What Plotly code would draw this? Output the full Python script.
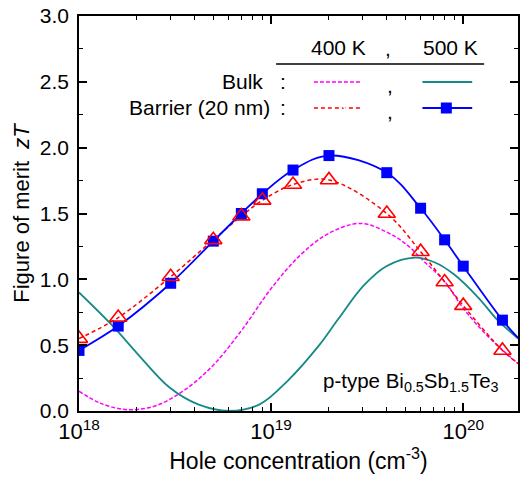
import plotly.graph_objects as go

# ---------------- data ----------------
conc_barrier = [1e18, 1.6e18, 3e18, 5e18, 7e18, 9e18, 1.3e19, 2e19, 4e19, 6e19, 8e19, 1e20, 1.6e20]
zt_barrier_500 = [0.46, 0.645, 0.97, 1.29, 1.50, 1.65, 1.83, 1.94, 1.81, 1.54, 1.30, 1.10, 0.69]
zt_barrier_400 = [0.55, 0.71, 1.02, 1.30, 1.48, 1.60, 1.72, 1.755, 1.50, 1.21, 0.98, 0.80, 0.46]

# curve continues to right frame edge
conc_edge = 1.93e20
zt_barrier_500_edge = 0.555
zt_barrier_400_edge = 0.36

conc_bulk400 = [1e18, 1.29e18, 1.78e18, 2.51e18, 3.55e18, 5.01e18, 7.08e18, 1e19, 1.41e19,
                2e19, 2.92e19, 3.98e19, 5.01e19, 6.31e19, 7.94e19, 1e20, 1.26e20, 1.58e20, 1.93e20]
zt_bulk400 = [0.15, 0.06, 0.01, 0.04, 0.16, 0.35, 0.62, 0.93, 1.18,
              1.35, 1.425, 1.36, 1.27, 1.13, 0.99, 0.78, 0.61, 0.47, 0.36]

conc_bulk500 = [1e18, 1.51e18, 2e18, 2.95e18, 4.17e18, 6.03e18, 8.71e18, 1.23e19, 1.78e19, 2.24e19,
                3.02e19, 3.98e19, 5.62e19, 7.08e19, 8.91e19, 1.2e20, 1.51e20, 1.93e20]
zt_bulk500 = [0.90, 0.64, 0.44, 0.18, 0.05, 0.0, 0.05, 0.235, 0.50, 0.70,
              0.95, 1.10, 1.165, 1.13, 1.04, 0.86, 0.69, 0.55]

x_tick_vals = [1e18, 1e19, 1e20]
x_tick_text = ["10<sup>18</sup>", "10<sup>19</sup>", "10<sup>20</sup>"]
y_tick_vals = [0.0, 0.5, 1.0, 1.5, 2.0, 2.5, 3.0]

# ---------------- style ----------------
FONT = "Liberation Sans, Arial, sans-serif"
MAGENTA = "#ff00ff"
TEAL = "#138a86"
RED = "#ff0000"
BLUE = "#0000ff"

fig = go.Figure()

fig.add_trace(go.Scatter(x=conc_bulk400, y=zt_bulk400, mode="lines",
                         line=dict(color=MAGENTA, width=1.5, dash="4px,2px", shape="spline", smoothing=1.0)))
fig.add_trace(go.Scatter(x=conc_bulk500, y=zt_bulk500, mode="lines",
                         line=dict(color=TEAL, width=1.8, shape="spline", smoothing=1.0)))
fig.add_trace(go.Scatter(x=conc_barrier + [conc_edge], y=zt_barrier_400 + [zt_barrier_400_edge], mode="lines",
                         line=dict(color=RED, width=1.5, dash="4px,3px", shape="spline", smoothing=1.0)))
fig.add_trace(go.Scatter(x=conc_barrier + [conc_edge], y=zt_barrier_500 + [zt_barrier_500_edge], mode="lines",
                         line=dict(color=BLUE, width=1.8, shape="spline", smoothing=1.0)))
fig.add_trace(go.Scatter(x=conc_barrier, y=zt_barrier_500, mode="markers",
                         marker=dict(symbol="square", size=11, color=BLUE, line=dict(width=0))))
fig.add_trace(go.Scatter(x=conc_barrier, y=zt_barrier_400, mode="markers",
                         marker=dict(symbol="triangle-up-open", size=15, color=RED, line=dict(width=1.6, color=RED))))

# ---------------- custom legend (pixel-like overlay axes) ----------------
L = dict(xaxis="x2", yaxis="y2", hoverinfo="skip", cliponaxis=False)
fig.add_trace(go.Scatter(x=[315, 363], y=[82, 82], mode="lines",
                         line=dict(color=MAGENTA, width=1.5, dash="4px,2px"), **L))
fig.add_trace(go.Scatter(x=[424, 474], y=[82, 82], mode="lines",
                         line=dict(color=TEAL, width=1.8), **L))
fig.add_trace(go.Scatter(x=[315, 363], y=[108, 108], mode="lines",
                         line=dict(color=RED, width=1.5, dash="4px,3px"), **L))
fig.add_trace(go.Scatter(x=[340], y=[108], mode="markers",
                         marker=dict(symbol="triangle-up-open", size=15, color="white", line=dict(width=1.6, color=RED)), **L))
fig.add_trace(go.Scatter(x=[424, 474], y=[108, 108], mode="lines",
                         line=dict(color=BLUE, width=1.8), **L))
fig.add_trace(go.Scatter(x=[448], y=[108], mode="markers",
                         marker=dict(symbol="square", size=11, color=BLUE), **L))
fig.add_trace(go.Scatter(x=[277, 486], y=[64, 64], mode="lines",
                         line=dict(color="black", width=1.5), **L))

ann = []
def txt(x, y, s, anchor="center", size=21):
    ann.append(dict(x=x, y=y, xref="x2", yref="y2", text=s, showarrow=False,
                    xanchor=anchor, yanchor="middle", font=dict(family=FONT, size=size, color="black")))

txt(340, 47, "400 K")
txt(389, 48, ",")
txt(452, 47, "500 K")
txt(266, 81, "Bulk", "right")
txt(284, 81, ":")
txt(391, 85, ",")
txt(273, 107, "Barrier (20 nm)", "right")
txt(284, 107, ":")
txt(391, 111, ",")
txt(322, 382, "p-type Bi<sub>0.5</sub>Sb<sub>1.5</sub>Te<sub>3</sub>", "left", 20.5)

fig.update_layout(
    width=520, height=482,
    margin=dict(l=79, r=0, t=16, b=71),
    paper_bgcolor="white", plot_bgcolor="white",
    showlegend=False,
    font=dict(family=FONT, size=21, color="black"),
    annotations=ann,
    xaxis=dict(type="log", range=[18, 20.285], tickvals=x_tick_vals, ticktext=x_tick_text,
               ticks="inside", ticklen=8, tickwidth=1.5, tickcolor="black",
               minor=dict(ticks="inside", ticklen=4, tickwidth=1.2, tickcolor="black", dtick="D1", showgrid=False),
               showline=True, linecolor="black", linewidth=1.5, mirror="ticks",
               showgrid=False, zeroline=False,
               tickfont=dict(size=22),
               title=dict(text="Hole concentration (cm<sup>-3</sup>)", font=dict(size=23), standoff=6)),
    yaxis=dict(range=[0, 3.0], tickvals=y_tick_vals, tickformat=".1f",
               ticks="inside", ticklen=8, tickwidth=1.5, tickcolor="black",
               minor=dict(ticks="inside", ticklen=4, tickwidth=1.2, tickcolor="black", dtick=0.25, showgrid=False),
               showline=True, linecolor="black", linewidth=1.5, mirror="ticks",
               showgrid=False, zeroline=False,
               tickfont=dict(size=21), ticklabelstandoff=4,
               title=dict(text="Figure of merit  <i>zT</i>", font=dict(size=22), standoff=4)),
    xaxis2=dict(overlaying="x", range=[79, 520], visible=False),
    yaxis2=dict(overlaying="y", range=[411, 16], visible=False),
)

fig.write_html("out.html")
